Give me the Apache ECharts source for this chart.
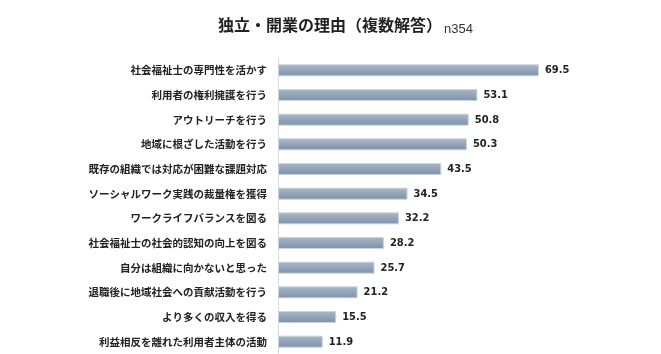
<!DOCTYPE html>
<html>
<head>
<meta charset="utf-8">
<script src="https://cdn.jsdelivr.net/npm/echarts@6/dist/echarts.min.js"></script>
<style>
  html, body { margin: 0; padding: 0; background: #fff; }
  #chart { width: 661px; height: 354px; }
</style>
</head>
<body>
<div id="chart"></div>
<script>
// 独立・開業の理由（複数解答） n354
var reasons = [
    '社会福祉士の専門性を活かす',
    '利用者の権利擁護を行う',
    'アウトリーチを行う',
    '地域に根ざした活動を行う',
    '既存の組織では対応が困難な課題対応',
    'ソーシャルワーク実践の裁量権を獲得',
    'ワークライフバランスを図る',
    '社会福祉士の社会的認知の向上を図る',
    '自分は組織に向かないと思った',
    '退職後に地域社会への貢献活動を行う',
    'より多くの収入を得る',
    '利益相反を離れた利用者主体の活動'
];
var percents = [69.5, 53.1, 50.8, 50.3, 43.5, 34.5, 32.2, 28.2, 25.7, 21.2, 15.5, 11.9];

var chart = echarts.init(document.getElementById('chart'));
var jpFont = '"Noto Sans CJK JP", sans-serif';

var option = {
    animation: false,
    title: {
        text: '{main|独立・開業の理由（複数解答）}{n|n354}',
        left: 213,
        top: 12,
        textStyle: {
            fontWeight: 'normal',
            rich: {
                main: { fontFamily: jpFont, fontSize: 16, fontWeight: 'bold', color: '#222' },
                n: { fontFamily: '"Liberation Sans", sans-serif', fontSize: 13, fontWeight: 'normal', color: '#333', verticalAlign: 'bottom', padding: [0, 0, -3, 2] }
            }
        }
    },
    grid: { left: 278, top: 58, width: 375.5, height: 298 },
    xAxis: {
        type: 'value',
        min: 0,
        max: 100,
        show: false
    },
    yAxis: {
        type: 'category',
        inverse: true,
        data: reasons,
        axisLine: { show: true, lineStyle: { color: '#d9d9d9', width: 1 } },
        axisTick: { show: false },
        axisLabel: {
            margin: 11,
            fontFamily: jpFont,
            fontSize: 10.5,
            fontWeight: 'bold',
            color: '#222'
        }
    },
    series: [{
        type: 'bar',
        data: percents,
        barWidth: 12,
        itemStyle: {
            borderColor: '#c9d4df',
            borderWidth: 1,
            color: new echarts.graphic.LinearGradient(0, 0, 0, 1, [
                { offset: 0, color: '#a9b8c8' },
                { offset: 1, color: '#7d91a8' }
            ])
        },
        label: {
            show: true,
            position: 'right',
            distance: 6,
            formatter: function (p) { return p.value.toFixed(1); },
            fontFamily: '"DejaVu Sans Condensed", sans-serif',
            fontSize: 11,
            fontWeight: 'bold',
            color: '#222'
        }
    }]
};

chart.setOption(option);
</script>
</body>
</html>
